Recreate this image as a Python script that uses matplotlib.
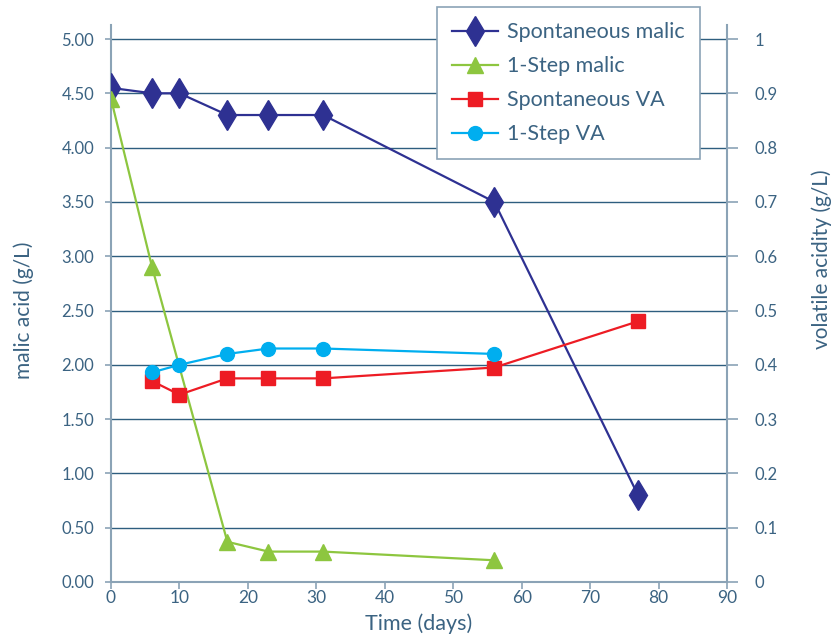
import matplotlib
matplotlib.use('Agg')
import matplotlib.pyplot as plt
from matplotlib.ticker import FixedLocator, FuncFormatter

plt.rcParams['font.family'] = ['Lato', 'DejaVu Sans']

# data
spont_days = [0, 6, 10, 17, 23, 31, 56, 77]
spont_malic = [4.55, 4.50, 4.50, 4.30, 4.30, 4.30, 3.50, 0.80]

onestep_days = [0, 6, 17, 23, 31, 56]
onestep_malic = [4.45, 2.90, 0.37, 0.28, 0.28, 0.20]

spont_va_days = [6, 10, 17, 23, 31, 56, 77]
spont_va = [0.37, 0.345, 0.375, 0.375, 0.375, 0.395, 0.48]

onestep_va_days = [6, 10, 17, 23, 31, 56]
onestep_va = [0.386, 0.40, 0.42, 0.43, 0.43, 0.42]

left_ticks = [0, 0.5, 1, 1.5, 2, 2.5, 3, 3.5, 4, 4.5, 5]
right_ticks = [0, 0.1, 0.2, 0.3, 0.4, 0.5, 0.6, 0.7, 0.8, 0.9, 1]
x_ticks = [0, 10, 20, 30, 40, 50, 60, 70, 80, 90]

txt = '#3b6382'
spine_c = '#8ba3b6'
grid_c = '#2e5e7f'

fig = plt.figure(figsize=(8.35, 6.43), dpi=100)
ax = fig.add_axes([111/835, 1-582/643, (727-111)/835, (582-25)/643])
ax2 = ax.twinx()

ax.plot(spont_days, spont_malic, color='#2e3192', lw=1.6, marker='d',
        markersize=15, label='Spontaneous malic', zorder=3)
ax.plot(onestep_days, onestep_malic, color='#8dc63f', lw=1.6, marker='^',
        markersize=12, label='1-Step malic', zorder=3)
ax2.plot(spont_va_days, spont_va, color='#ed1c24', lw=1.6, marker='s',
         markersize=10, label='Spontaneous VA', zorder=3)
ax2.plot(onestep_va_days, onestep_va, color='#00aeef', lw=1.6, marker='o',
         markersize=10, label='1-Step VA', zorder=3)

top = 5 * (582-25) / (582-39)
ax.set_xlim(0, 90)
ax.set_ylim(0, top)
ax2.set_ylim(0, top / 5)
ax.yaxis.set_major_locator(FixedLocator(left_ticks))
ax2.yaxis.set_major_locator(FixedLocator(right_ticks))
ax.xaxis.set_major_locator(FixedLocator(x_ticks))
ax.yaxis.set_major_formatter(FuncFormatter(lambda v, p: '%.2f' % v))
ax2.yaxis.set_major_formatter(FuncFormatter(lambda v, p: '%g' % v))

ax.grid(axis='y', color=grid_c, lw=1.0)
ax.set_axisbelow(True)

for a in (ax, ax2):
    a.spines['top'].set_visible(False)
    for s in ('left', 'right', 'bottom'):
        a.spines[s].set_color(spine_c)
        a.spines[s].set_linewidth(1.5)
ax.spines['right'].set_visible(False)
ax2.spines['left'].set_visible(False)
ax2.spines['bottom'].set_visible(False)

ax.tick_params(axis='y', colors=spine_c, labelcolor=txt, labelsize=12, length=4, width=1.2, pad=8)
ax.tick_params(axis='x', colors=spine_c, labelcolor=txt, labelsize=12.5, length=5, width=1.2, pad=1)
ax2.tick_params(axis='y', colors=spine_c, labelcolor=txt, labelsize=12, length=8, width=1.2, pad=12)

ax.set_xlabel('Time (days)', color=txt, fontsize=15.5, labelpad=5)
ax.set_ylabel('malic acid (g/L)', color=txt, fontsize=15)
ax2.set_ylabel('volatile acidity (g/L)', color=txt, fontsize=15)
for a, x, y in ((ax, -0.141, 0.488), (ax2, 1.153, 0.58)):
    a.yaxis.label.set_va('center')
    a.yaxis.label.set_ha('center')
    a.yaxis.set_label_coords(x, y)

h1, l1 = ax.get_legend_handles_labels()
h2, l2 = ax2.get_legend_handles_labels()
leg = ax2.legend(h1 + h2, l1 + l2, loc='upper right',
                 bbox_to_anchor=(700/835, 1-7/643), bbox_transform=fig.transFigure,
                 fontsize=15.5, frameon=True, fancybox=False, borderaxespad=0,
                 handlelength=2.1, labelspacing=0.65, borderpad=0.7, handletextpad=0.45)
leg.get_frame().set_edgecolor(spine_c)
leg.get_frame().set_linewidth(1.2)
leg.get_frame().set_alpha(1)
for t in leg.get_texts():
    t.set_color(txt)

fig.savefig('out.png', dpi=100)
